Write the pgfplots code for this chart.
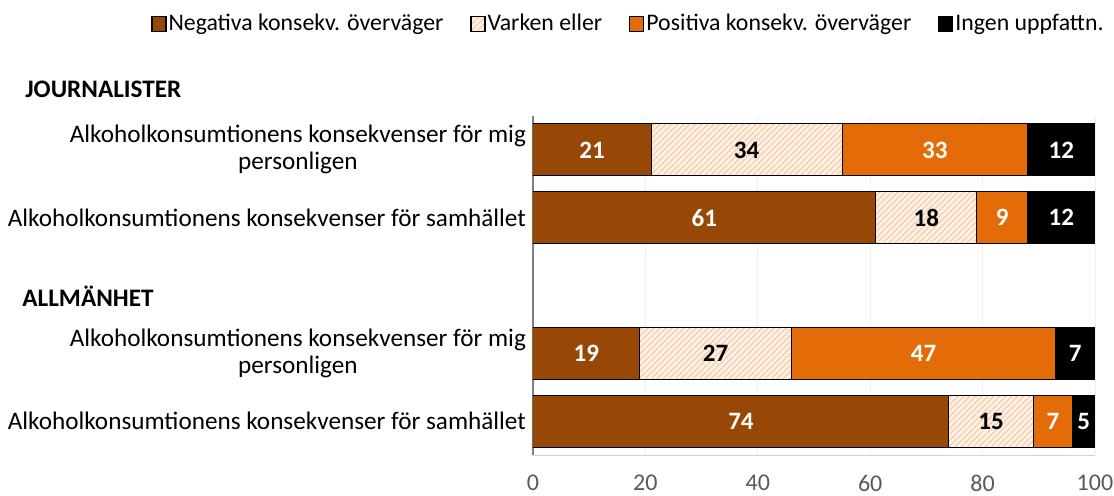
\documentclass[border=0pt]{standalone}
\usepackage{fontspec}
\setmainfont{Carlito}
\usepackage{pgfplots}
\pgfplotsset{compat=1.18}
\usetikzlibrary{patterns}
\definecolor{neg}{HTML}{974706}
\definecolor{pos}{HTML}{E36C09}
\definecolor{varfill}{HTML}{FCEFE4}
\definecolor{varline}{HTML}{F5C6A0}
\definecolor{tickgray}{HTML}{595959}
\begin{document}
\begin{tikzpicture}
\useasboundingbox (-266.5pt,-20.5pt) rectangle (290.5pt,227.5pt);
\begin{axis}[
  at={(0,0)}, anchor=south west,
  scale only axis, width=281pt, height=169.5pt,
  /pgf/number format/assume math mode=true,
  xbar stacked, bar width=26pt,
  xmin=0, xmax=100, ymin=0.5, ymax=5.5,
  xtick={0,20,...,100},
  ytick={1,2,4,5},
  yticklabels={{Alkoholkonsumtionens konsekvenser för samhället},{Alkoholkonsumtionens konsekvenser för mig\\personligen},{Alkoholkonsumtionens konsekvenser för samhället},{Alkoholkonsumtionens konsekvenser för mig\\personligen}},
  yticklabel style={align=center, font=\fontsize{12.6}{13.5}\selectfont, text=black},
  xticklabel style={font=\fontsize{12}{14}\selectfont, text=tickgray, yshift=-6.5pt},
  major tick length=0pt,
  axis x line*=bottom, axis y line*=left,
  x axis line style={draw=gray!35, -},
  y axis line style={draw=gray, line width=1pt, -},
  xmajorgrids, grid style={draw=gray!12},
  legend columns=4,
  legend cell align=left,
  legend style={draw=none, at={(1,1)}, anchor=east, xshift=5.5pt, yshift=46pt, inner sep=0pt,
    font=\fontsize{11.9}{13.5}\selectfont,
    nodes={inner sep=1pt},
    /tikz/every even column/.append style={column sep=12.5pt}},
  legend image code/.code={\draw[#1, draw=black, line width=0.6pt] (0pt,-3.6pt) rectangle (7pt,3.6pt);},
  nodes near coords,
  every node near coord/.append style={font=\fontsize{12.5}{15}\selectfont\bfseries},
]
\addplot[fill=neg, draw=black, line width=0.5pt, every node near coord/.append style={text=white}]
  coordinates {(74,1) (19,2) (61,4) (21,5)};
\addlegendentry{Negativa konsekv. överväger}
\addplot[fill=varfill, draw=black, line width=0.5pt, postaction={pattern=north east lines, pattern color=varline}, every node near coord/.append style={text=black}]
  coordinates {(15,1) (27,2) (18,4) (34,5)};
\addlegendentry{Varken eller}
\addplot[fill=pos, draw=black, line width=0.5pt, every node near coord/.append style={text=white}]
  coordinates {(7,1) (47,2) (9,4) (33,5)};
\addlegendentry{Positiva konsekv. överväger}
\addplot[fill=black, draw=black, line width=0.5pt, point meta=explicit symbolic, every node near coord/.append style={text=white}]
  coordinates {(4,1) [5] (7,2) [7] (12,4) [12] (12,5) [12]};
\addlegendentry{Ingen uppfattn.}
\end{axis}
\node[anchor=west, inner sep=0pt, font=\fontsize{12.6}{14}\selectfont\bfseries] at (-254pt,183pt) {JOURNALISTER};
\node[anchor=west, inner sep=0pt, font=\fontsize{12.6}{14}\selectfont\bfseries] at (-255.5pt,79.5pt) {ALLMÄNHET};
\end{tikzpicture}
\end{document}
